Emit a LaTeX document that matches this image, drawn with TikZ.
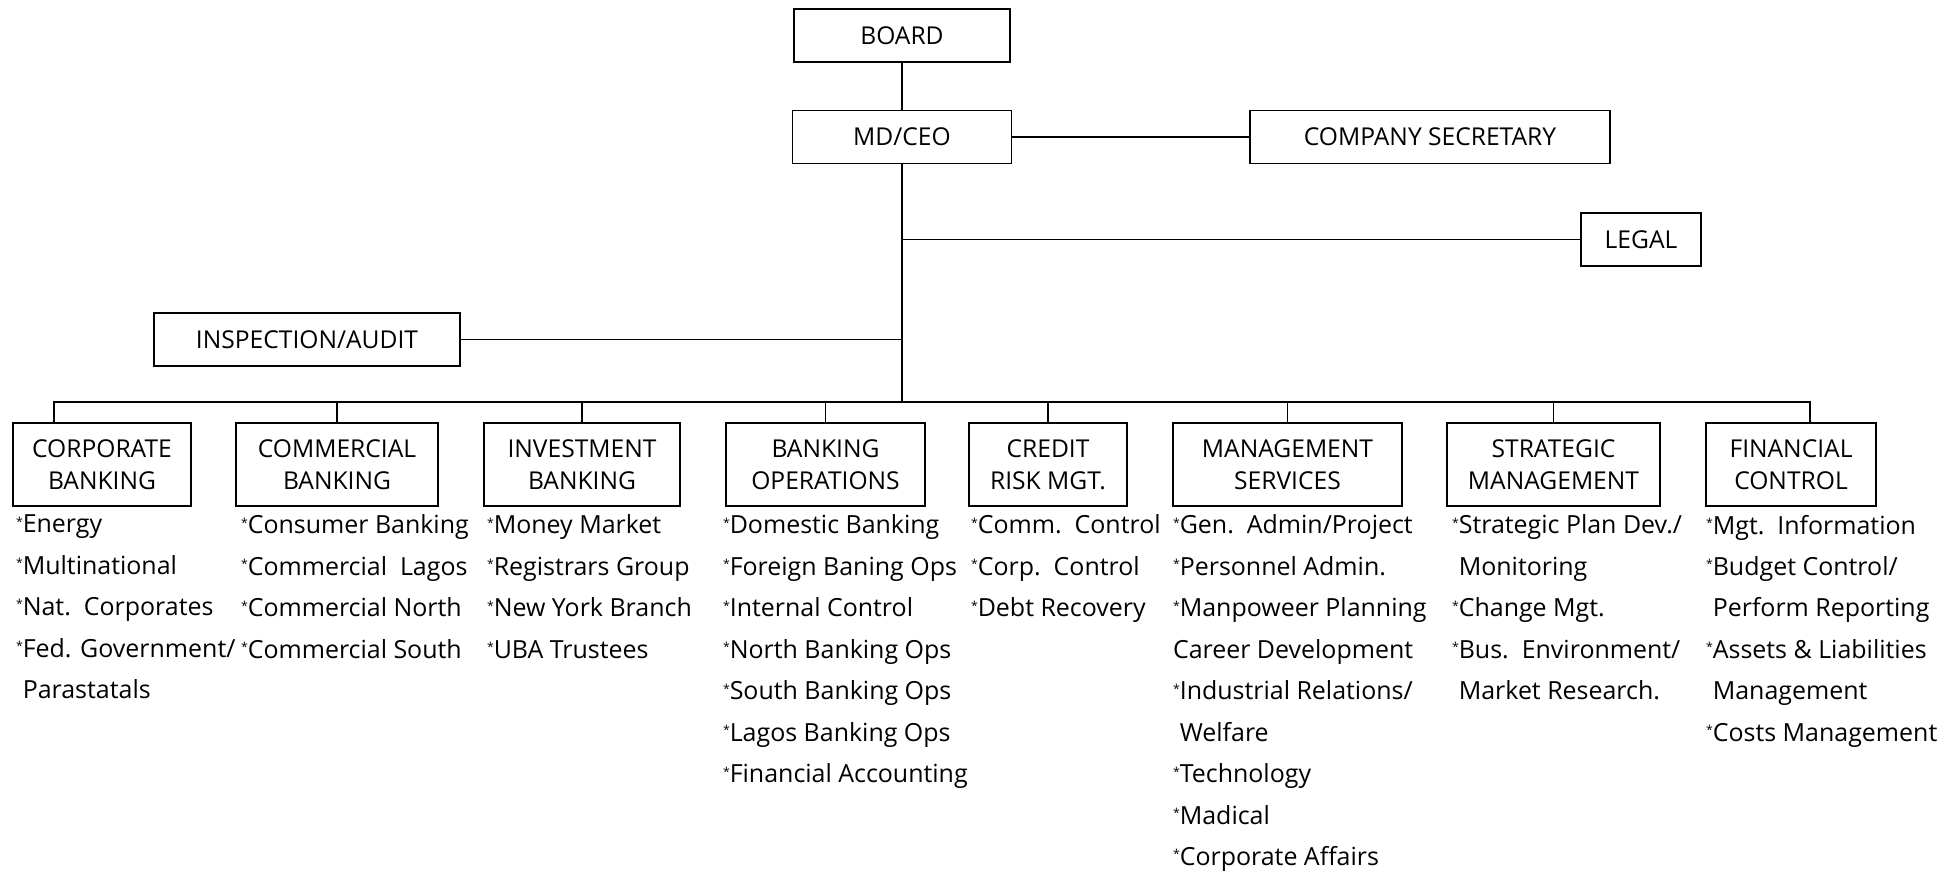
\documentclass[tikz,border=0pt]{standalone}
\usepackage{fontspec}
\setmainfont{Open Sans}
\usepackage{tikz}
\usetikzlibrary{positioning}
\newcommand{\bul}{\raisebox{.5ex}{\scriptsize*}}

\begin{document}
\begin{tikzpicture}[node distance=2cm, on grid, line width=0.8pt,
       unit/.style={draw, minimum height=1.06cm, align=center,
         font=\fontsize{14}{18}\selectfont},
       dept/.style={draw, minimum height=1.66cm, align=center,
         font=\fontsize{14}{18}\selectfont},
       tasks/.style={anchor=north west, align=left, inner xsep=0pt,
         inner ysep=0pt, font=\fontsize{14.2}{23.6}\selectfont}]

       \useasboundingbox (0,0) rectangle (39.18,-17.42);

       \node[unit, minimum width=4.32cm] (board) at (18.04,-0.71) {BOARD};
       \node[unit, minimum width=4.38cm, below=2.03 of board] (mdceo) {MD/CEO};
       \node[unit, minimum width=7.2cm, right=10.56 of mdceo] (compsec) {COMPANY SECRETARY};
       \node[unit, minimum width=2.4cm, below right=2.05 and 14.78 of mdceo] (legal) {LEGAL};
       \node[unit, minimum width=6.12cm, below left=4.05 and 11.9 of mdceo] (inspect) {INSPECTION/AUDIT};
       \coordinate[below=5.3 of mdceo] (bus);

       \draw (board) -- (mdceo);
       \draw (mdceo) -- (compsec);
       \draw (mdceo.south) -- (bus);
       \draw (legal.west) -- (legal.west -| mdceo);
       \draw (inspect) -- (inspect -| mdceo);

       % departments
       \node[dept, minimum width=3.56cm, below left=6.55 and 16.0 of mdceo] (corp) {CORPORATE\\BANKING};
       \node[dept, minimum width=4.04cm, right=4.7 of corp] (comm) {COMMERCIAL\\BANKING};
       \node[dept, minimum width=3.92cm, right=4.9 of comm] (invest) {INVESTMENT\\BANKING};
       \node[dept, minimum width=3.98cm, right=4.87 of invest] (bankops) {BANKING\\OPERATIONS};
       \node[dept, minimum width=3.16cm, right=4.45 of bankops] (credit) {CREDIT\\RISK MGT.};
       \node[dept, minimum width=4.58cm, right=4.79 of credit] (mgtserv) {MANAGEMENT\\SERVICES};
       \node[dept, minimum width=4.26cm, right=5.32 of mgtserv] (strategy) {STRATEGIC\\MANAGEMENT};
       \node[dept, minimum width=3.4cm, right=4.75 of strategy] (fincon) {FINANCIAL\\CONTROL};

       \draw ([xshift=-9.6mm]corp.north) |- ([xshift=3.8mm]fincon.north |- bus)
         -- ([xshift=3.8mm]fincon.north);
       \foreach \d in {comm,invest,bankops,credit,mgtserv,strategy}
         \draw (\d.north) -- (\d.north |- bus);

       % task lists
       \node[tasks] (corp_t) at ([xshift=0.6mm,yshift=-1.5mm]corp.south west)
         {\bul Energy\\\bul Multinational\\\bul Nat.\ \ Corporates\\\bul Fed. Government/\\\hphantom{\bul}Parastatals};
       \node[tasks] (comm_t) at ([xshift=1mm,yshift=-1.5mm]comm.south west)
         {\bul Consumer Banking\\\bul Commercial\ \ Lagos\\\bul Commercial North\\\bul Commercial South};
       \node[tasks] (invest_t) at ([xshift=0.6mm,yshift=-1.5mm]invest.south west)
         {\bul Money Market\\\bul Registrars Group\\\bul New York Branch\\\bul UBA Trustees};
       \node[tasks] (bankops_t) at ([xshift=-0.6mm,yshift=-1.5mm]bankops.south west)
         {\bul Domestic Banking\\\bul Foreign Baning Ops\\\bul Internal Control\\\bul North Banking Ops\\\bul South Banking Ops\\\bul Lagos Banking Ops\\\bul Financial Accounting};
       \node[tasks] (credit_t) at ([xshift=0.4mm,yshift=-1.5mm]credit.south west)
         {\bul Comm.\ \ Control\\\bul Corp.\ \ Control\\\bul Debt Recovery};
       \node[tasks] (mgtserv_t) at ([xshift=0mm,yshift=-1.5mm]mgtserv.south west)
         {\bul Gen.\ \ Admin/Project\\\bul Personnel Admin.\\\bul Manpoweer Planning\\Career Development\\\bul Industrial Relations/\\\hphantom{\bul}Welfare\\\bul Technology\\\bul Madical\\\bul Corporate Affairs};
       \node[tasks] (strategy_t) at ([xshift=1mm,yshift=-1.5mm]strategy.south west)
         {\bul Strategic Plan Dev./\\\hphantom{\bul}Monitoring\\\bul Change Mgt.\\\bul Bus.\ \ Environment/\\\hphantom{\bul}Market Research.};
       \node[tasks] (fincon_t) at ([yshift=-1.5mm]fincon.south west)
         {\bul Mgt.\ \ Information\\\bul Budget Control/\\\hphantom{\bul}Perform Reporting\\\bul Assets \& Liabilities\\\hphantom{\bul}Management\\\bul Costs Management};

\end{tikzpicture}
\end{document}
